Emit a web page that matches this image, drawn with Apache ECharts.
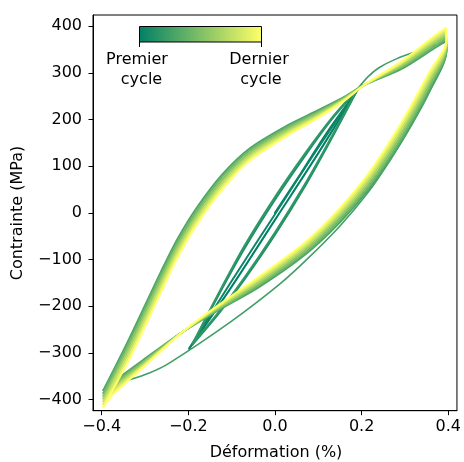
<!DOCTYPE html>
<html>
<head>
<meta charset="utf-8">
<script src="https://cdn.jsdelivr.net/npm/echarts@6/dist/echarts.min.js"></script>
<style>html,body{margin:0;padding:0;background:#fff}#c{width:464px;height:462px}</style>
</head>
<body>
<div id="c"></div>
<script>
// ---- Data ----
const xTicks = [-0.4, -0.2, 0.0, 0.2, 0.4];
const yTicks = [-400, -300, -200, -100, 0, 100, 200, 300, 400];

// first small cycles (amplitude ~0.2 %)
const cycleA1 = [[0,0],[0.06,85],[0.12,172],[0.19,263]];
const cycleAUnload = [[0.19,263],[0.1,128],[0.0,-15],[-0.1,-158],[-0.198,-291]];
const cycleA2 = [[-0.198,-291],[-0.1,-146],[0.0,-3],[0.1,140],[0.19,263]];
const cycleB1Unload = [[0.19,263],[0.13,158],[0.07,58],[0.0,-47],[-0.07,-142],[-0.13,-216],[-0.19,-282]];
const cycleB1Load = [[-0.19,-282],[-0.13,-176],[-0.07,-76],[0.0,28],[0.07,123],[0.13,199],[0.19,264]];
const cycleB2Unload = [[0.19,264],[0.13,162],[0.07,63],[0.0,-42],[-0.07,-138],[-0.13,-213],[-0.19,-280]];
const cycleB2Load = [[-0.19,-280],[-0.13,-172],[-0.07,-70],[0.0,34],[0.07,128],[0.13,202],[0.19,265]];
// transition to full amplitude (0.4 %)
const cycleCLoad = [[0.19,265],[0.215,292],[0.24,311],[0.28,330],[0.33,347],[0.394,366]];
const cycleCUnload = [[0.394,366],[0.396,348],[0.356,258],[0.314,186],[0.268,116],[0.215,44],[0.150,-28],[0.070,-103],[0.008,-155],[-0.1,-232],[-0.244,-322],[-0.29,-343],[-0.374,-370],[-0.396,-380]];

// full-amplitude cycles: strains of loading / unloading branches
const loadStrain = [-0.396,-0.336,-0.263,-0.225,-0.179,-0.122,-0.060,0.024,0.100,0.161,0.206,0.291,0.368,0.394];
const unloadStrain = [0.394,0.396,0.356,0.314,0.268,0.215,0.150,0.070,-0.037,-0.122,-0.213,-0.305,-0.374,-0.396];
const loadStress = [
  [-380,-269,-126,-56,13,82,137,185,220,249,274,308,353,368],
  [-386,-276,-133,-63,7,77,133,181,217,248,274,311,357,373],
  [-392,-284,-141,-69,1,71,128,178,215,246,274,313,362,377],
  [-398,-291,-148,-76,-5,66,124,174,212,245,274,316,366,382],
  [-404,-298,-155,-83,-11,61,120,170,209,244,274,319,370,387],
  [-410,-306,-163,-89,-17,55,115,167,207,242,274,321,375,391],
  [-416,-313,-170,-96,-23,50,111,163,204,241,274,324,379,396]
];
const unloadStress = [
  [368,350,261,189,119,49,-20,-89,-159,-204,-255,-316,-363,-380],
  [373,353,268,196,125,55,-15,-85,-155,-202,-255,-319,-367,-386],
  [377,357,274,202,132,60,-10,-80,-152,-200,-255,-321,-372,-392],
  [382,360,281,209,138,66,-5,-76,-148,-198,-255,-324,-376,-398],
  [387,363,288,216,144,72,0,-72,-144,-196,-255,-327,-380,-404],
  [391,367,294,222,151,77,5,-67,-141,-194,-255,-329,-385,-410],
  [396,370,301,229,157,83,10,-63,-137,-192,-255,-332,-389,-416]
];
// colormap position of each drawn line (0 = first cycle, 1 = last)
const smallCycleT = [0, 0, 0.05, 0.12, 0.12, 0.19, 0.19, 0.25, 0.25];
const bigCycleT = [0.30, 0.42, 0.53, 0.65, 0.77, 0.88, 1.0];

// ---- helpers ----
function summer(t){ // matplotlib 'summer' colormap
  const r = Math.round(255*t), g = Math.round(255*(0.5+0.5*t)), b = 102;
  return 'rgb('+r+','+g+','+b+')';
}
function zip(xs, ys){ return xs.map((x,i)=>[x, ys[i]]); }
function fmt(v){ return String(v).replace('-', '\u2212'); }

const series = [];
const LW = 2;
function addLine(data, t, w){
  series.push({type:'line', data:data, showSymbol:false, symbol:'none',
    smooth:0.3, silent:true,
    lineStyle:{color:summer(t), width:w||LW, cap:'round', join:'round'}, z:2});
}
const smallLines = [cycleA1, cycleAUnload, cycleA2, cycleB1Unload, cycleB1Load, cycleB2Unload, cycleB2Load, cycleCLoad, cycleCUnload];
smallLines.forEach((d,i)=>addLine(d, smallCycleT[i], i>=7 ? 1.6 : 2));
for (let c=0;c<loadStress.length;c++){
  addLine(zip(loadStrain, loadStress[c]), bigCycleT[c]);
  addLine(zip(unloadStrain, unloadStress[c]), bigCycleT[c]);
}

const FONT = 'DejaVu Sans';
const FS = 16;
const chart = echarts.init(document.getElementById('c'), null, {renderer:'canvas'});
chart.setOption({
  animation:false,
  backgroundColor:'#fff',
  grid:{left:93, right:4.5, top:15, bottom:51.3, show:true, borderColor:'#000', borderWidth:1, backgroundColor:'transparent'},
  xAxis:{type:'value', min:-0.42, max:0.42,
    axisLine:{show:true, onZero:false, lineStyle:{color:'#000', width:1}},
    axisTick:{show:true, length:4.5, customValues:xTicks, lineStyle:{color:'#000', width:1}},
    axisLabel:{show:true, customValues:xTicks, margin:8, fontFamily:FONT, fontSize:FS, color:'#000',
      formatter:(v)=>fmt(Number(v).toFixed(1))},
    splitLine:{show:false}},
  yAxis:{type:'value', min:-424, max:424,
    axisLine:{show:true, onZero:false, lineStyle:{color:'#000', width:1}},
    axisTick:{show:true, length:4.5, customValues:yTicks, lineStyle:{color:'#000', width:1}},
    axisLabel:{show:true, customValues:yTicks, margin:11, fontFamily:FONT, fontSize:FS, color:'#000',
      formatter:(v)=>fmt(Math.round(v))},
    splitLine:{show:false}},
  series:series,
  graphic:[
    {type:'rect', shape:{x:139.5, y:26.5, width:122, height:15.5},
     style:{fill:new echarts.graphic.LinearGradient(0,0,1,0,[{offset:0,color:summer(0)},{offset:1,color:summer(1)}]), stroke:'#000', lineWidth:1}, z:10},
    {type:'line', shape:{x1:139.5, y1:42, x2:139.5, y2:47}, style:{stroke:'#000', lineWidth:1}, z:10},
    {type:'line', shape:{x1:261.5, y1:42, x2:261.5, y2:47}, style:{stroke:'#000', lineWidth:1}, z:10},
    {type:'text', x:137, y:60, style:{text:'Premier', fontFamily:FONT, fontSize:FS, fill:'#000', align:'center', verticalAlign:'middle'}, z:10},
    {type:'text', x:141.5, y:80, style:{text:'cycle', fontFamily:FONT, fontSize:FS, fill:'#000', align:'center', verticalAlign:'middle'}, z:10},
    {type:'text', x:259, y:60, style:{text:'Dernier', fontFamily:FONT, fontSize:FS, fill:'#000', align:'center', verticalAlign:'middle'}, z:10},
    {type:'text', x:261, y:80, style:{text:'cycle', fontFamily:FONT, fontSize:FS, fill:'#000', align:'center', verticalAlign:'middle'}, z:10},
    {type:'text', x:276, y:453, style:{text:'Déformation (%)', fontFamily:FONT, fontSize:FS, fill:'#000', align:'center', verticalAlign:'middle'}, z:10},
    {type:'text', x:18, y:213, rotation:Math.PI/2, style:{text:'Contrainte (MPa)', fontFamily:FONT, fontSize:FS, fill:'#000', align:'center', verticalAlign:'middle'}, z:10}
  ]
});
</script>
</body>
</html>
